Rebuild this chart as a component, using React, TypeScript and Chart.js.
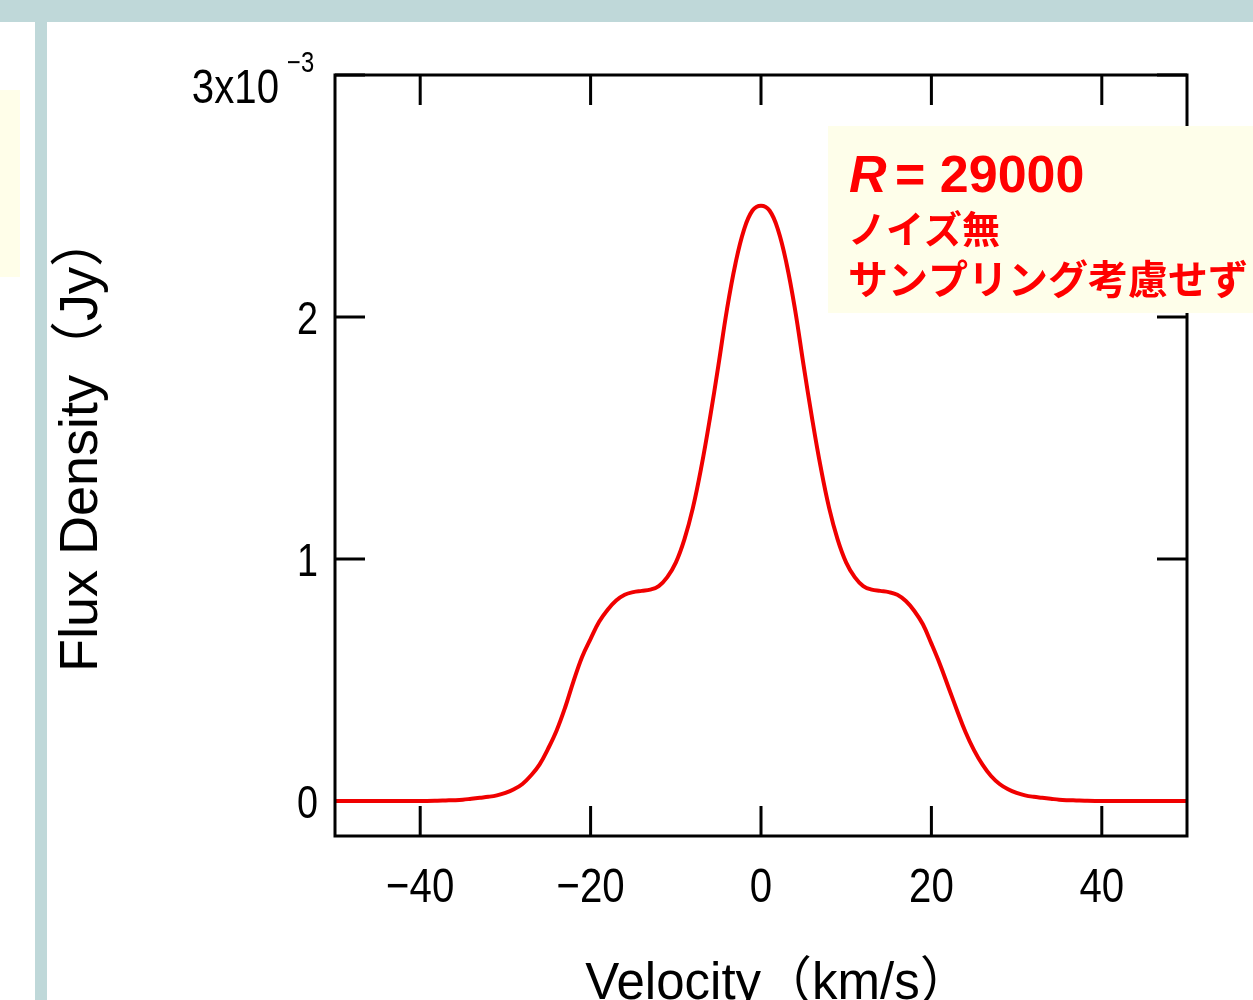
import React, { useEffect, useRef } from "react";
import { Chart, registerables } from "chart.js";

Chart.register(...registerables);

// Velocity (km/s)
const velocity = [
  -50, -44, -40, -38, -37, -36, -35, -34, -33, -32, -31, -30, -29, -28, -27, -26, -25, -24, -23, -22, -21, -20,
  -19, -18, -17, -16, -15, -14, -13, -12, -11, -10, -9, -8, -7, -6, -5, -4, -3, -2, -1, 0,
  1, 2, 3, 4, 5, 6, 7, 8, 9, 10, 11, 12, 13, 14, 15, 16, 17, 18, 19, 20,
  21, 22, 23, 24, 25, 26, 27, 28, 29, 30, 31, 32, 33, 34, 35, 36, 37, 38, 40, 44, 50,
];

// Flux density (units of 1e-3 Jy)
const flux = [
  0, 0, 0, 0.001, 0.002, 0.003, 0.005, 0.009, 0.013, 0.017, 0.023, 0.033, 0.048, 0.07, 0.105, 0.15, 0.215, 0.29, 0.385, 0.495, 0.595, 0.67,
  0.74, 0.79, 0.828, 0.852, 0.863, 0.868, 0.873, 0.888, 0.925, 0.985, 1.08, 1.21, 1.38, 1.58, 1.8, 2.03, 2.22, 2.36, 2.44, 2.46,
  2.44, 2.36, 2.22, 2.03, 1.8, 1.58, 1.38, 1.21, 1.08, 0.985, 0.925, 0.888, 0.873, 0.868, 0.863, 0.852, 0.826, 0.785, 0.73, 0.65,
  0.565, 0.47, 0.375, 0.285, 0.21, 0.15, 0.103, 0.07, 0.048, 0.033, 0.023, 0.017, 0.013, 0.009, 0.005, 0.003, 0.002, 0.001, 0, 0, 0,
];

const xMin = -50;
const xMax = 50;
const yMin = -0.145;
const yMax = 3;

const xTicks = [-40, -20, 0, 20, 40];
const xTickLabels = ["\u221240", "\u221220", "0", "20", "40"];
const yTicks = [0, 1, 2, 3];
const yTickLabels = ["0", "1", "2", "3x10"];
const yExponent = "\u22123";

const xTitle = "Velocity\uFF08km/s\uFF09";
const yTitle = "Flux Density\uFF08Jy\uFF09";

const noteR = "R";
const noteRValue = "= 29000";
const noteLine2 = "ノイズ無";
const noteLine3 = "サンプリング考慮せず";

const SANS = '"Liberation Sans", Arial, "Noto Sans CJK JP", sans-serif';
const CJK = '"Noto Sans CJK JP", "Liberation Sans", sans-serif';

const TICK = 30;
const NARROW_SCALE = 0.82;

function drawNarrow(ctx: CanvasRenderingContext2D, text: string, x: number, y: number, size: number, align: "left" | "right" | "center") {
  ctx.save();
  ctx.font = `${size}px ${SANS}`;
  ctx.textAlign = align;
  ctx.textBaseline = "alphabetic";
  ctx.translate(x, y);
  ctx.scale(NARROW_SCALE, 1);
  ctx.fillText(text, 0, 0);
  ctx.restore();
}

const framePlugin = {
  id: "igorFrame",
  beforeDatasetsDraw(chart: any) {
    const { ctx, chartArea: a, scales } = chart;
    const x = scales.x;
    const y = scales.y;
    ctx.save();
    ctx.strokeStyle = "#000";
    ctx.lineWidth = 3;
    ctx.beginPath();
    xTicks.forEach((v) => {
      const px = x.getPixelForValue(v);
      ctx.moveTo(px, a.bottom);
      ctx.lineTo(px, a.bottom - TICK);
      ctx.moveTo(px, a.top);
      ctx.lineTo(px, a.top + TICK);
    });
    yTicks.forEach((v) => {
      const py = y.getPixelForValue(v);
      ctx.moveTo(a.left, py);
      ctx.lineTo(a.left + TICK, py);
      ctx.moveTo(a.right, py);
      ctx.lineTo(a.right - TICK, py);
    });
    ctx.stroke();
    ctx.restore();
  },
  afterDatasetsDraw(chart: any) {
    const { ctx, chartArea: a, scales } = chart;
    const x = scales.x;
    const y = scales.y;
    ctx.save();
    ctx.strokeStyle = "#000";
    ctx.lineWidth = 3;
    ctx.lineJoin = "miter";
    ctx.strokeRect(a.left, a.top, a.right - a.left, a.bottom - a.top);

    ctx.fillStyle = "#000";
    // x tick labels
    xTicks.forEach((v, i) => {
      drawNarrow(ctx, xTickLabels[i], x.getPixelForValue(v), a.bottom + 66, 49, "center");
    });
    // y tick labels
    yTicks.forEach((v, i) => {
      const py = y.getPixelForValue(v);
      if (i === yTicks.length - 1) {
        drawNarrow(ctx, yTickLabels[i], a.left - 56, py + 28, 49, "right");
        drawNarrow(ctx, yExponent, a.left - 48, py - 3, 29, "left");
      } else {
        drawNarrow(ctx, yTickLabels[i], a.left - 17, py + 17, 46, "right");
      }
    });

    // axis titles
    ctx.font = `51px ${SANS}`;
    ctx.textAlign = "center";
    ctx.textBaseline = "alphabetic";
    ctx.fillText(xTitle, (a.left + a.right) / 2 + 17, 999);

    ctx.save();
    ctx.translate(97, (a.top + a.bottom) / 2 - 13);
    ctx.rotate(-Math.PI / 2);
    ctx.font = `54px ${SANS}`;
    ctx.textAlign = "center";
    ctx.fillText(yTitle, 0, 0);
    ctx.restore();

    // annotation box
    ctx.fillStyle = "#fefeea";
    ctx.fillRect(828, 126, 430, 187);
    ctx.fillStyle = "#ff0000";
    ctx.textAlign = "left";
    ctx.font = `italic bold 52px ${SANS}`;
    ctx.fillText(noteR, 849, 192);
    ctx.font = `bold 52px ${SANS}`;
    ctx.fillText(noteRValue, 895, 192);
    ctx.font = `bold 38px ${CJK}`;
    ctx.fillText(noteLine2, 848, 243);
    ctx.font = `bold 40px ${CJK}`;
    ctx.fillText(noteLine3, 848, 294);
    ctx.restore();
  },
};

export default function App() {
  const canvasRef = useRef<HTMLCanvasElement | null>(null);

  useEffect(() => {
    const canvas = canvasRef.current;
    if (!canvas) return;
    const points = velocity.map((v, i) => ({ x: v, y: flux[i] }));
    const chart = new Chart(canvas, {
      type: "line",
      data: {
        datasets: [
          {
            data: points,
            borderColor: "#f00000",
            borderWidth: 4,
            pointRadius: 0,
            fill: false,
            tension: 0.4,
          },
        ],
      },
      options: {
        responsive: false,
        animation: false,
        events: [],
        layout: { padding: { left: 335, top: 75, right: 66, bottom: 164 } },
        plugins: { legend: { display: false }, tooltip: { enabled: false } },
        scales: {
          x: { type: "linear", min: xMin, max: xMax, display: false },
          y: { type: "linear", min: yMin, max: yMax, display: false },
        },
      },
      plugins: [framePlugin],
    });
    return () => chart.destroy();
  }, []);

  return (
    <div
      style={{
        position: "fixed",
        left: 0,
        top: 0,
        width: 1253,
        height: 1000,
        overflow: "hidden",
        background: "#ffffff",
      }}
    >
      <div style={{ position: "absolute", left: 0, top: 0, width: 1253, height: 22, background: "#bfd8d9" }} />
      <div style={{ position: "absolute", left: 35, top: 22, width: 12, height: 978, background: "#bfd8d9" }} />
      <div style={{ position: "absolute", left: 0, top: 90, width: 20, height: 187, background: "#fffee9" }} />
      <canvas
        ref={canvasRef}
        width={1253}
        height={1000}
        style={{ position: "absolute", left: 0, top: 0, width: 1253, height: 1000 }}
      />
    </div>
  );
}
